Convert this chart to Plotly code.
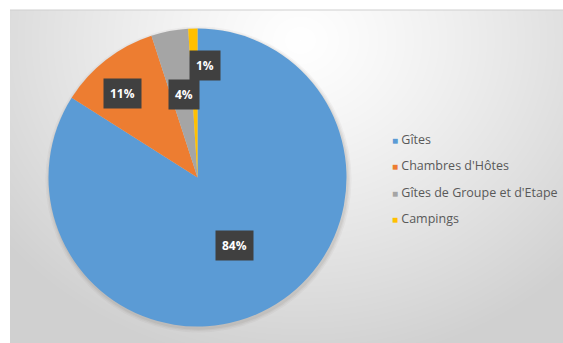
import base64, struct, zlib, math
import numpy as np
import plotly.graph_objects as go

# ---------------- data ----------------
categories = ["Gîtes", "Chambres d'Hôtes", "Gîtes de Groupe et d'Etape", "Campings"]
values = [84, 11, 4, 1]
colors = ["#5b9bd5", "#ed7d31", "#a5a5a5", "#ffc000"]

# ---------------- geometry / style ----------------
W, H = 563, 343
CX, CY, R = 197.5, 177.5, 149.0          # pie centre / radius in pixels
label_rfrac = [0.52, 0.753, 0.568, 0.75]  # label distance from centre (fraction of radius)
label_dang = [0.0, -4.0, 1.3, 5.6]        # small angular nudges (deg) like Excel's best fit

# ---------------- background radial gradient image ----------------
AX0, AY0, AX1, AY1 = 10, 10, W + 10, H + 10
iw, ih = AX1 - AX0, AY1 - AY0
yy, xx = np.mgrid[0:ih, 0:iw].astype(float)
gx, gy = 300 - AX0, 40 - AY0
t = np.sqrt(((xx - gx) / 380.0) ** 2 + ((yy - gy) / 330.0) ** 2)
t = np.clip(t, 0, 1)
img = (255 - 47 * t ** 1.2).astype(np.uint8)


def png_gray(a):
    h, w = a.shape
    raw = b"".join(b"\x00" + a[i].tobytes() for i in range(h))

    def chunk(tag, data):
        c = struct.pack(">I", len(data)) + tag + data
        return c + struct.pack(">I", zlib.crc32(tag + data) & 0xFFFFFFFF)

    return (b"\x89PNG\r\n\x1a\n" + chunk(b"IHDR", struct.pack(">IIBBBBB", w, h, 8, 0, 0, 0, 0))
            + chunk(b"IDAT", zlib.compress(raw, 9)) + chunk(b"IEND", b""))


src = "data:image/png;base64," + base64.b64encode(png_gray(img)).decode()

fig = go.Figure()

fig.add_trace(go.Pie(
    labels=categories, values=values, sort=False, direction="clockwise", rotation=0,
    marker=dict(colors=colors, line=dict(width=0)),
    textinfo="none", hoverinfo="label+percent", showlegend=False,
    domain=dict(x=[(CX - R) / W, (CX + R) / W], y=[(H - CY - R) / H, (H - CY + R) / H]),
))

# legend entries (custom swatch placed right beside the text)
for i, (c, col) in enumerate(zip(categories, colors)):
    fig.add_trace(go.Scatter(
        x=[None], y=[None], mode="markers", marker=dict(size=1, color="rgba(0,0,0,0)"),
        name=f"<span style='color:{col};font-size:10px'>■</span> {c}",
        legendgroup=f"g{i}", showlegend=True,
    ))

# percentage callouts
total = sum(values)
cum = 0
annotations = []
for i, v in enumerate(values):
    mid = (cum + v / 2) / total * 360.0 + label_dang[i]
    cum += v
    a = math.radians(mid)
    px = CX + label_rfrac[i] * R * math.sin(a)
    py = CY - label_rfrac[i] * R * math.cos(a)
    annotations.append(dict(
        x=px / W, y=1 - py / H, xref="paper", yref="paper", showarrow=False,
        xanchor="center", yanchor="middle",
        text=f"<b>{round(v / total * 100)}%</b>",
        font=dict(family="Open Sans", size=12, color="white"),
        bgcolor="#404040", borderpad=6,
    ))

# soft shadow under the pie
shadow = []
for k, op in [(4, 0.06), (2.5, 0.08), (1.2, 0.10)]:
    shadow.append(dict(type="circle", xref="paper", yref="paper", layer="below",
                       x0=(CX - R - k + 1) / W, x1=(CX + R + k + 1) / W,
                       y0=1 - (CY + R + k + 2) / H, y1=1 - (CY - R - k + 2) / H,
                       fillcolor=f"rgba(120,110,100,{op})", line=dict(width=0)))

fig.update_layout(
    width=W, height=H, margin=dict(l=0, r=0, t=0, b=0),
    paper_bgcolor="white", plot_bgcolor="rgba(0,0,0,0)",
    xaxis=dict(visible=False), yaxis=dict(visible=False),
    images=[dict(source=src, xref="paper", yref="paper", x=AX0 / W, y=1 - AY0 / H,
                 sizex=iw / W, sizey=ih / H, sizing="stretch", layer="below",
                 xanchor="left", yanchor="top")],
    shapes=shadow + [dict(type="line", xref="paper", yref="paper", x0=AX0 / W, x1=1.05,
                          y0=1 - AY0 / H, y1=1 - AY0 / H, line=dict(color="#cfcfcf", width=1))],
    annotations=annotations,
    legend=dict(x=352 / W, y=1 - 124 / H, xanchor="left", yanchor="top",
                bgcolor="rgba(0,0,0,0)", tracegroupgap=7.3, itemwidth=30,
                font=dict(family="Open Sans", size=12.5, color="#595959")),
    showlegend=True,
)

fig.write_html(
    "out.html",
    config={"displayModeBar": False},
    post_script="document.body.style.margin='0';document.body.style.overflow='hidden';"
                "document.body.style.background='#d2d2d2';",
)
